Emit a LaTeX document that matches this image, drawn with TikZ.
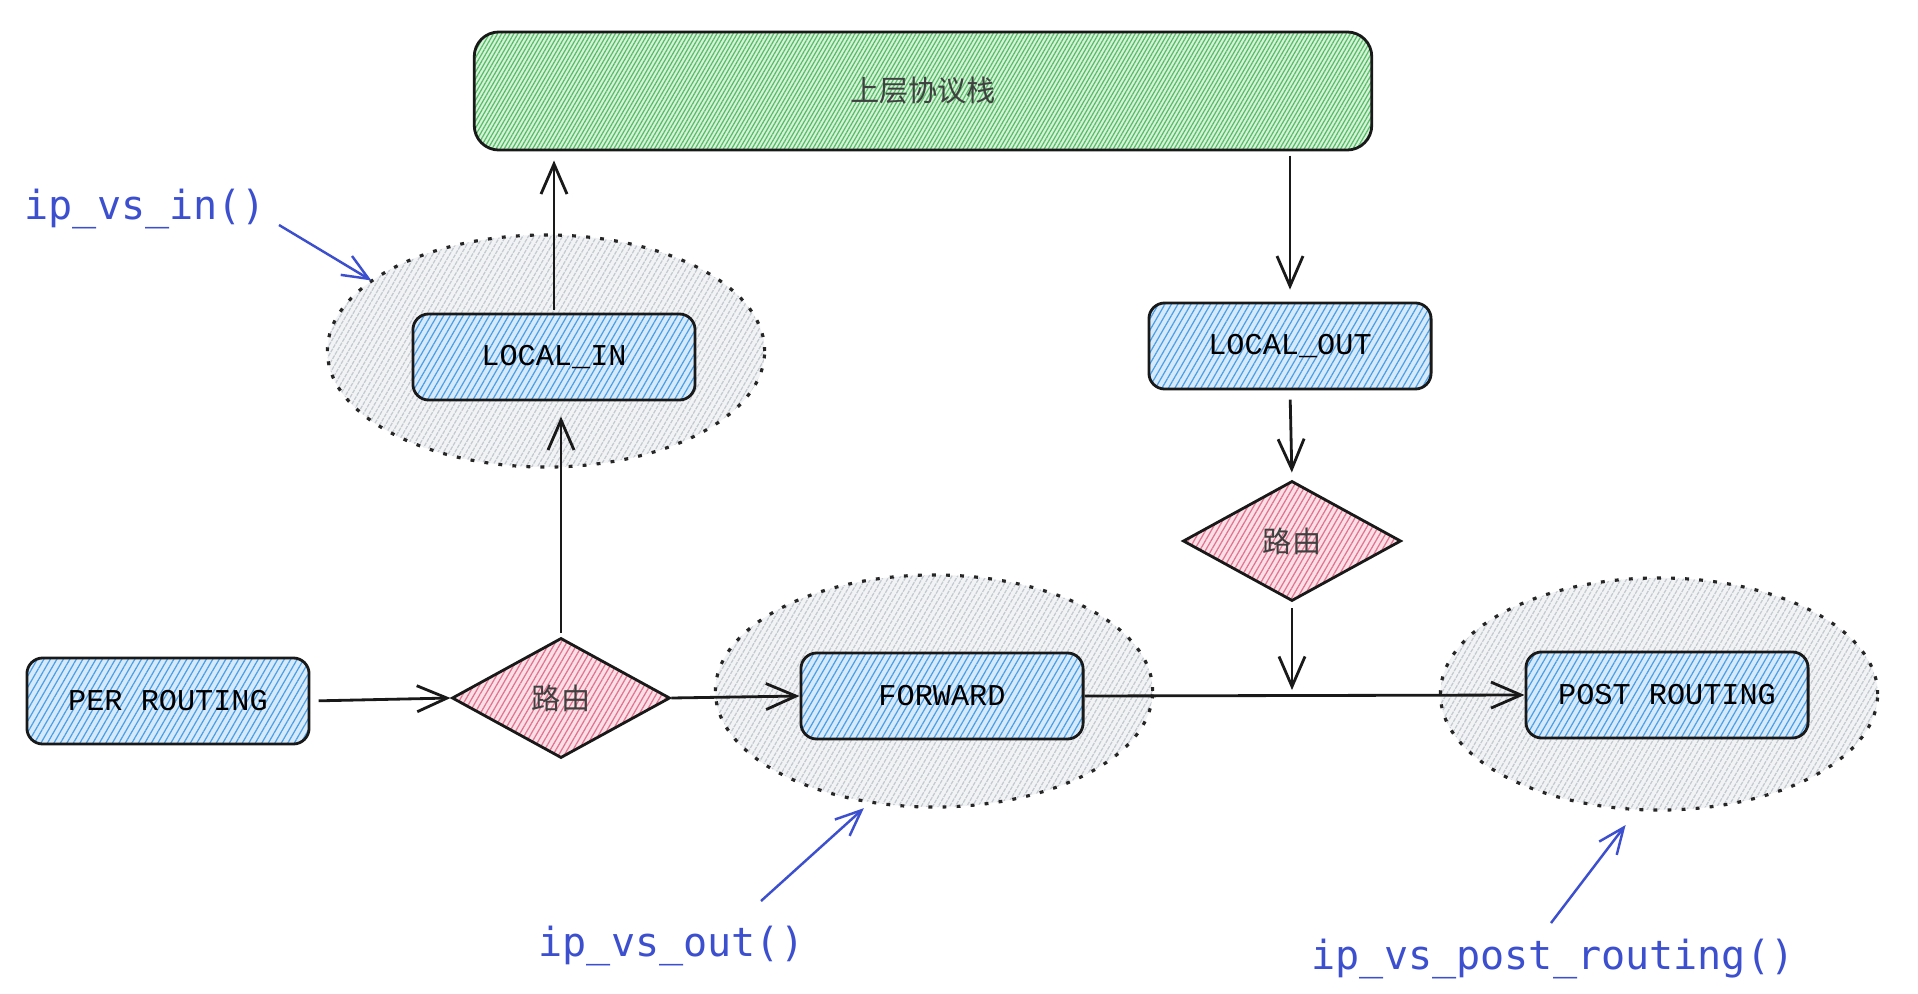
\documentclass[tikz,border=0pt]{standalone}
\usepackage{fontspec}
\setmonofont{DejaVu Sans Mono}
\newfontfamily\cjkfont{Noto Sans CJK SC}
\newfontfamily\boxfont{Liberation Mono}
\usetikzlibrary{shapes.geometric,arrows.meta,patterns.meta}

\definecolor{hatchblue}{HTML}{4A9FE8}
\definecolor{hatchgreen}{HTML}{52C062}
\definecolor{hatchpink}{HTML}{E5718F}
\definecolor{hatchgray}{HTML}{C4CAD0}
\definecolor{hookblue}{HTML}{3B4FCF}

\tikzset{
  hatch/.style 2 args={preaction={fill=#1!22}, pattern={Lines[angle=60,distance=#2,line width=0.35pt]}, pattern color=#1},
  stagebox/.style={draw=black!90, line width=0.8pt, rounded corners=4.5pt, minimum width=2.82cm, minimum height=0.86cm,
    hatch={hatchblue}{1.6pt}, font=\boxfont\fontsize{8.6pt}{10pt}\selectfont},
  routebox/.style={diamond, draw=black!90, line width=0.8pt, aspect=1.8, inner sep=0pt, minimum width=2.18cm, minimum height=1.2cm,
    hatch={hatchpink}{1.4pt}, font=\cjkfont\fontsize{8.3pt}{10pt}\selectfont, text=black!75},
  hookzone/.style={ellipse, draw=black!85, line width=0.9pt, dash pattern=on 1.1pt off 2.9pt, minimum width=4.37cm, minimum height=2.32cm,
    hatch={hatchgray}{1.4pt}},
  hooklabel/.style={anchor=west, inner sep=0pt, text=hookblue, font=\ttfamily\fontsize{11.4pt}{13pt}\selectfont},
  flow/.style={-{Straight Barb[length=3mm,width=2.6mm]}, line width=0.8pt, black!90},
  hookarrow/.style={-{Straight Barb[length=2.6mm,width=2.2mm]}, line width=0.7pt, hookblue}
}

\begin{document}
\begin{tikzpicture}[x=0.01cm, y=-0.01cm]
    \useasboundingbox (0,0) rectangle (1918,994);

    % Draw the hook zones behind the stages
    \node[hookzone] (hookin) at (546,351) {};
    \node[hookzone] (hookout) at (934,691) {};
    \node[hookzone] (hookpost) at (1659,694) {};

    % Upper protocol stack
    \node[draw=black!90, line width=0.8pt, rounded corners=7pt, minimum width=8.97cm, minimum height=1.18cm,
      hatch={hatchgreen}{1pt}, font=\cjkfont\fontsize{8.3pt}{10pt}\selectfont, text=black!75] (stack) at (923,91) {上层协议栈};

    % Netfilter stages
    \node[stagebox] (localin) at (554,357) {LOCAL\_IN};
    \node[stagebox] (localout) at (1290,346) {LOCAL\_OUT};
    \node[stagebox] (preroute) at (168,701) {PER ROUTING};
    \node[stagebox] (forward) at (942,696) {FORWARD};
    \node[stagebox] (postroute) at (1667,695) {POST ROUTING};

    % Routing decisions
    \node[routebox] (routein) at (561,698) {路由};
    \node[routebox] (routeout) at (1292,541) {路由};
    \coordinate (join) at (routeout.south |- forward.east);

    % Packet flow
    \draw[flow, shorten <=2.3pt] (preroute.east) -- (routein.west);
    \draw[flow] (routein.east) -- (forward.west);
    \draw[flow] (forward.east) -- (postroute.west);
    \draw[flow, shorten <=1pt, shorten >=4.5pt] (routein.north) -- (routein.north |- localin.south);
    \draw[flow, shorten <=1pt, shorten >=2.8pt] (localin.north) -- (localin.north |- stack.south);
    \draw[flow, shorten <=1.4pt, shorten >=3.4pt] (stack.south -| localout.north) -- (localout.north);
    \draw[flow, shorten <=2.6pt, shorten >=2pt] (localout.south) -- (routeout.north);
    \draw[flow, shorten <=1.7pt, shorten >=1.7pt] (routeout.south) -- (join);

    % IPVS hook functions
    \node[hooklabel] (inlabel) at (24,209) {ip\_vs\_in()};
    \node[hooklabel] (outlabel) at (538,946) {ip\_vs\_out()};
    \node[hooklabel] (postlabel) at (1311,959) {ip\_vs\_post\_routing()};
    \coordinate (intail) at (279,225);
    \coordinate (outtail) at (761,901);
    \coordinate (posttail) at (1551,923);
    \draw[hookarrow] (intail) -- (hookin.158);
    \draw[hookarrow, shorten >=2pt] (outtail) -- (hookout.240);
    \draw[hookarrow, shorten >=5pt] (posttail) -- (hookpost.259);
\end{tikzpicture}
\end{document}
